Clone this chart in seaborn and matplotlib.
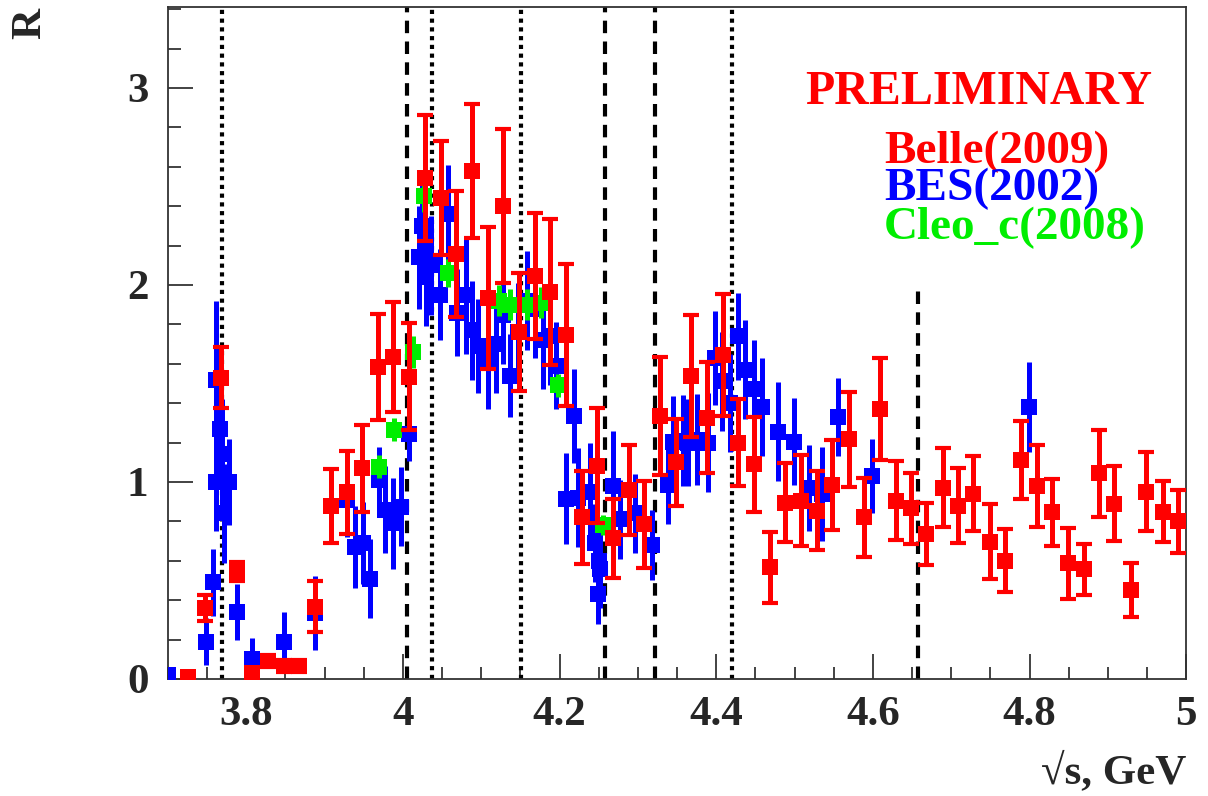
import numpy as np
import pandas as pd
import matplotlib
matplotlib.use("Agg")
import matplotlib.pyplot as plt
import seaborn as sns
from matplotlib.ticker import MultipleLocator, FuncFormatter

# Belle (2009)
belle_e = [3.726, 3.747, 3.768, 3.788, 3.807, 3.828, 3.848, 3.867, 3.888, 3.908,
           3.929, 3.948, 3.968, 3.987, 4.008, 4.028, 4.049, 4.068, 4.088, 4.109,
           4.128, 4.148, 4.169, 4.188, 4.208, 4.229, 4.248, 4.268, 4.288, 4.308,
           4.328, 4.349, 4.368, 4.388, 4.409, 4.428, 4.448, 4.469, 4.488, 4.508,
           4.529, 4.548, 4.569, 4.589, 4.609, 4.630, 4.649, 4.668, 4.689, 4.708,
           4.728, 4.749, 4.769, 4.789, 4.810, 4.829, 4.849, 4.869, 4.889, 4.908,
           4.929, 4.949, 4.970, 4.989]
belle_r = [0.01, 0.36, 1.53, 0.545, 0.03, 0.09, 0.065, 0.065, 0.367, 0.878,
           0.948, 1.07, 1.585, 1.633, 1.535, 2.545, 2.443, 2.157, 2.58, 1.932,
           2.40, 1.76, 2.047, 1.963, 1.746, 0.82, 1.083, 0.714, 0.96, 0.785,
           1.335, 1.10, 1.538, 1.327, 1.645, 1.20, 1.09, 0.567, 0.895, 0.905,
           0.854, 0.985, 1.217, 0.82, 1.37, 0.905, 0.866, 0.736, 0.97, 0.88,
           0.94, 0.697, 0.60, 1.112, 0.98, 0.846, 0.587, 0.557, 1.044, 0.89,
           0.452, 0.95, 0.85, 0.80]
belle_err = [0.01, 0.065, 0.155, 0.05, 0.02, 0.03, 0.03, 0.03, 0.13, 0.19,
             0.21, 0.22, 0.27, 0.28, 0.27, 0.32, 0.29, 0.32, 0.34, 0.36,
             0.39, 0.30, 0.32, 0.37, 0.36, 0.235, 0.29, 0.20, 0.23, 0.22,
             0.30, 0.22, 0.31, 0.28, 0.31, 0.22, 0.24, 0.18, 0.20, 0.23,
             0.20, 0.23, 0.24, 0.20, 0.26, 0.20, 0.18, 0.155, 0.20, 0.19,
             0.19, 0.19, 0.16, 0.20, 0.21, 0.17, 0.18, 0.13, 0.22, 0.19,
             0.135, 0.20, 0.155, 0.16]

# BES (2002)
bes_e = [3.700, 3.748, 3.758, 3.762, 3.761, 3.766, 3.769, 3.771, 3.778, 3.788,
         3.807, 3.848, 3.888, 3.928, 3.939, 3.949, 3.958, 3.969, 3.977, 3.987,
         3.998, 4.008, 4.020, 4.025, 4.030, 4.036, 4.047, 4.058, 4.069, 4.081,
         4.088, 4.096, 4.108, 4.119, 4.128, 4.137, 4.147, 4.158, 4.168, 4.179,
         4.188, 4.196, 4.208, 4.218, 4.224, 4.239, 4.245, 4.250, 4.252, 4.249,
         4.268, 4.277, 4.296, 4.318, 4.338, 4.345, 4.358, 4.364, 4.375, 4.390,
         4.399, 4.407, 4.418, 4.428, 4.437, 4.448, 4.458, 4.479, 4.499, 4.518,
         4.535, 4.556, 4.599, 4.799]
bes_r = [0.02, 0.19, 0.49, 1.52, 1.00, 1.27, 1.14, 0.84, 1.00, 0.34,
         0.10, 0.19, 0.335, 0.91, 0.67, 0.69, 0.51, 1.01, 0.86, 0.79,
         0.875, 1.245, 2.14, 2.30, 2.04, 2.10, 1.95, 2.36, 1.86, 1.95,
         1.77, 1.69, 1.62, 1.70, 1.85, 1.54, 1.76, 1.92, 1.88, 1.72,
         1.74, 1.59, 0.915, 1.335, 0.92, 0.95, 0.69, 0.60, 0.56, 0.43,
         0.98, 0.81, 0.84, 0.68, 0.985, 1.205, 1.21, 1.20, 1.215, 1.20,
         1.63, 1.51, 1.40, 1.74, 1.57, 1.47, 1.38, 1.255, 1.205, 0.97,
         0.94, 1.33, 1.03, 1.38]
bes_err = [0.03, 0.12, 0.17, 0.40, 0.25, 0.30, 0.28, 0.25, 0.22, 0.14,
           0.11, 0.15, 0.19, 0.19, 0.21, 0.21, 0.20, 0.17, 0.22, 0.23,
           0.20, 0.14, 0.26, 0.25, 0.25, 0.25, 0.23, 0.25, 0.22, 0.30,
           0.25, 0.24, 0.25, 0.25, 0.25, 0.21, 0.25, 0.25, 0.25, 0.25,
           0.25, 0.22, 0.23, 0.24, 0.25, 0.25, 0.20, 0.18, 0.20, 0.15,
           0.28, 0.20, 0.20, 0.18, 0.20, 0.23, 0.23, 0.22, 0.23, 0.25,
           0.24, 0.25, 0.25, 0.22, 0.25, 0.25, 0.25, 0.25, 0.22, 0.22,
           0.24, 0.20, 0.19, 0.23]

# Cleo_c (2008)
cleo_e = [3.969, 3.988, 4.013, 4.027, 4.057, 4.123, 4.137, 4.158, 4.176, 4.198, 4.256]
cleo_r = [1.078, 1.266, 1.66, 2.45, 2.06, 1.92, 1.90, 1.90, 1.91, 1.49, 0.78]
cleo_err = [0.06, 0.06, 0.08, 0.08, 0.07, 0.08, 0.08, 0.08, 0.08, 0.06, 0.05]

# resonance markers
dotted_lines = [3.769, 4.037, 4.151, 4.420]
dashed_lines = [4.005, 4.258, 4.322]
short_dashed = 4.657
short_dashed_top = 1.98

sns.set_theme(style="ticks")
plt.rcParams["font.family"] = ["Liberation Serif", "DejaVu Serif"]
plt.rcParams["font.weight"] = "bold"

fig = plt.figure(figsize=(12.08, 7.96), dpi=100)
ax = fig.add_axes([0.139, 0.147, 0.843, 0.844])

for x in dotted_lines:
    ax.axvline(x, color="black", lw=3, ls=(0, (1, 1.1)), zorder=1)
for x in dashed_lines:
    ax.axvline(x, color="black", lw=3, ls=(0, (3, 2)), zorder=1)
ax.vlines(short_dashed, 0, short_dashed_top, color="black", lw=3, ls=(0, (3, 2)), zorder=1)

belle = pd.DataFrame({"E": belle_e, "R": belle_r, "err": belle_err})
bes = pd.DataFrame({"E": bes_e, "R": bes_r, "err": bes_err})
cleo = pd.DataFrame({"E": cleo_e, "R": cleo_r, "err": cleo_err})

blue = "#0000ff"
red = "#ff0000"
green = "#00ee00"

ax.errorbar(bes["E"], bes["R"], yerr=bes["err"], fmt="none", ecolor=blue,
            elinewidth=3.6, capsize=0, zorder=2)
sns.scatterplot(data=bes, x="E", y="R", marker="s", s=130, color=blue,
                linewidth=0, ax=ax, zorder=3)

ax.errorbar(cleo["E"], cleo["R"], yerr=cleo["err"], fmt="none", ecolor=green,
            elinewidth=3.6, capsize=0, zorder=4)
sns.scatterplot(data=cleo, x="E", y="R", marker="s", s=120, color=green,
                linewidth=0, ax=ax, zorder=5)

ax.errorbar(belle["E"], belle["R"], yerr=belle["err"], fmt="none", ecolor=red,
            elinewidth=3.6, capsize=6, capthick=3, zorder=6)
sns.scatterplot(data=belle, x="E", y="R", marker="s", s=130, color=red,
                linewidth=0, ax=ax, zorder=7)

ax.set_xlim(3.7, 5.0)
ax.set_ylim(0, 3.41)
ax.xaxis.set_major_locator(MultipleLocator(0.2))
ax.xaxis.set_minor_locator(MultipleLocator(0.05))
ax.yaxis.set_major_locator(MultipleLocator(1))
ax.yaxis.set_minor_locator(MultipleLocator(0.2))
fmt = FuncFormatter(lambda v, p: "%g" % round(v, 2))
ax.xaxis.set_major_formatter(fmt)
ax.yaxis.set_major_formatter(fmt)
ax.tick_params(which="major", direction="in", length=18, width=1.2, color="#222222",
               labelsize=31, top=False, right=False)
ax.tick_params(which="minor", direction="in", length=9, width=1.2, color="#222222",
               top=False, right=False)
ax.tick_params(axis="y", pad=14)
ax.tick_params(axis="x", pad=12)
for lab in ax.get_xticklabels() + ax.get_yticklabels():
    lab.set_fontweight("bold")
for sp in ax.spines.values():
    sp.set_linewidth(1.3)
    sp.set_color("#333333")

ax.set_xlabel("")
ax.set_ylabel("")
fig.text(0.025, 0.99, "R", fontsize=31, fontweight="bold", rotation=90,
         ha="center", va="top")
fig.text(0.982, 0.03, "\u221as, GeV", fontsize=31, fontweight="bold",
         ha="right", va="center")

ax.text(0.796, 0.873, "PRELIMINARY", transform=ax.transAxes, color=red,
        fontsize=34.5, fontweight="bold", ha="center", va="center")
ax.text(0.703, 0.784, "Belle(2009)", transform=ax.transAxes, color=red,
        fontsize=34, fontweight="bold", ha="left", va="center")
ax.text(0.703, 0.729, "BES(2002)", transform=ax.transAxes, color=blue,
        fontsize=34, fontweight="bold", ha="left", va="center")
ax.text(0.703, 0.671, "Cleo_c(2008)", transform=ax.transAxes, color=green,
        fontsize=34, fontweight="bold", ha="left", va="center")

fig.savefig("out.png", dpi=100, facecolor="white")
